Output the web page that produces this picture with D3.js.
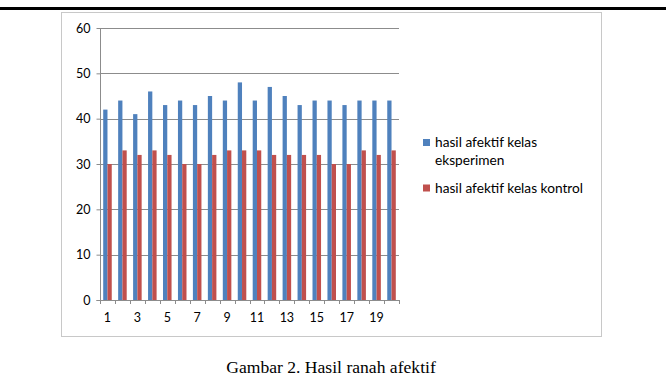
<!DOCTYPE html>
<html>
<head>
<meta charset="utf-8">
<script src="https://cdn.jsdelivr.net/npm/d3@7"></script>
<style>
  html, body { margin: 0; padding: 0; background: #fff; }
  svg { display: block; }
</style>
</head>
<body>
<svg id="chart" width="666" height="385"></svg>
<script>
const categories = d3.range(1, 21).map(String);
const eksperimen = [42, 44, 41, 46, 43, 44, 43, 45, 44, 48, 44, 47, 45, 43, 44, 44, 43, 44, 44, 44];
const kontrol = [30, 33, 32, 33, 32, 30, 30, 32, 33, 33, 33, 32, 32, 32, 32, 30, 30, 33, 32, 33];
const seriesNames = ["hasil afektif kelas eksperimen", "hasil afektif kelas kontrol"];
const yTicks = [0, 10, 20, 30, 40, 50, 60];

const colors = ["#4f81bd", "#c0504d"];
const font = "Lato, 'Open Sans', sans-serif";

const svg = d3.select("#chart");

// black rule at the top of the page
svg.append("rect").attr("x", 0).attr("y", 7).attr("width", 666).attr("height", 3).attr("fill", "#000");

// chart frame
svg.append("rect")
  .attr("x", 61.5).attr("y", 12.5)
  .attr("width", 540).attr("height", 324)
  .attr("fill", "#fff")
  .attr("stroke", "#c8c8c8")
  .attr("stroke-width", 1);

const plot = { left: 100, right: 399, top: 28, bottom: 300 };

const x = d3.scaleBand()
  .domain(categories)
  .range([plot.left, plot.right])
  .paddingInner(0).paddingOuter(0);

const y = d3.scaleLinear()
  .domain([0, 60])
  .range([plot.bottom, plot.top]);

// gridlines
svg.append("g")
  .selectAll("line")
  .data(yTicks.filter(d => d > 0))
  .join("line")
  .attr("x1", plot.left).attr("x2", plot.right)
  .attr("y1", d => Math.round(y(d)) + 0.5).attr("y2", d => Math.round(y(d)) + 0.5)
  .attr("stroke", "#8c8c8c")
  .attr("stroke-width", 1);

// bars: gap width 150% like the spreadsheet default
const barW = x.bandwidth() / 3.5;
const data = categories.map((c, i) => ({ cat: c, values: [eksperimen[i], kontrol[i]] }));

const groups = svg.append("g")
  .selectAll("g")
  .data(data)
  .join("g")
  .attr("transform", d => `translate(${x(d.cat) + x.bandwidth() * 0.75 / 3.5},0)`);

groups.selectAll("rect")
  .data(d => d.values)
  .join("rect")
  .attr("x", (d, i) => i * barW)
  .attr("y", d => y(d))
  .attr("width", barW)
  .attr("height", d => y(0) - y(d))
  .attr("fill", (d, i) => colors[i]);

// y axis
const yAxis = svg.append("g")
  .attr("transform", `translate(${plot.left + 0.5},0)`)
  .call(d3.axisLeft(y).tickValues(yTicks).tickSize(4).tickPadding(6));
yAxis.select(".domain").attr("stroke", "#8c8c8c").attr("d", `M-4,${plot.bottom + 0.5}H0V${plot.top}`);
yAxis.selectAll(".tick line").attr("stroke", "#8c8c8c");
yAxis.selectAll(".tick text")
  .attr("fill", "#000")
  .style("font-family", font)
  .style("font-size", "12.5px");

// x axis
const xAxis = svg.append("g")
  .attr("transform", `translate(0,${plot.bottom + 0.5})`)
  .call(d3.axisBottom(x).tickSize(0).tickPadding(13)
    .tickFormat(d => (+d % 2 === 1 ? d : "")));
xAxis.select(".domain").attr("stroke", "#8c8c8c").attr("d", `M${plot.left},0H${plot.right}`);
xAxis.selectAll(".tick text")
  .attr("fill", "#000")
  .style("font-family", font)
  .style("font-size", "12.5px");

// tick marks between categories
svg.append("g")
  .selectAll("line")
  .data(d3.range(categories.length + 1))
  .join("line")
  .attr("x1", i => Math.round(plot.left + i * x.bandwidth()) + 0.5)
  .attr("x2", i => Math.round(plot.left + i * x.bandwidth()) + 0.5)
  .attr("y1", plot.bottom).attr("y2", plot.bottom + 4)
  .attr("stroke", "#8c8c8c");

// legend
const legend = svg.append("g").style("font-family", font).style("font-size", "13.7px");
const legendRows = [
  { lines: ["hasil afektif kelas", "eksperimen"], y: 147, color: colors[0] },
  { lines: ["hasil afektif kelas kontrol"], y: 192.5, color: colors[1] }
];
legendRows.forEach(r => {
  legend.append("rect")
    .attr("x", 423).attr("y", r.y - 8)
    .attr("width", 7).attr("height", 7)
    .attr("fill", r.color);
  r.lines.forEach((t, j) => {
    legend.append("text")
      .attr("x", 435).attr("y", r.y + j * 18)
      .attr("fill", "#000")
      .text(t);
  });
});

// caption
svg.append("text")
  .attr("x", 331).attr("y", 373)
  .attr("text-anchor", "middle")
  .style("font-family", "'Liberation Serif', 'Times New Roman', serif")
  .style("font-size", "17.6px")
  .attr("fill", "#000")
  .text("Gambar 2. Hasil ranah afektif");
</script>
</body>
</html>
